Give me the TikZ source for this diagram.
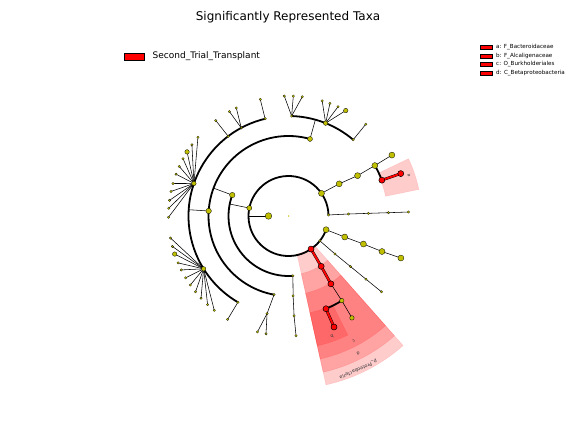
\documentclass[tikz,border=0pt]{standalone}
\usepackage{fontspec}
\setmainfont{DejaVu Sans}
\definecolor{ylw}{rgb}{0.75,0.75,0}
\tikzset{
  yn/.style={circle, fill=ylw, draw=black, line width=0.3pt, inner sep=0pt},
  big/.style={yn, minimum size=6pt},
  med/.style={yn, minimum size=5pt},
  mdl/.style={yn, minimum size=4.5pt},
  sml/.style={yn, minimum size=2.5pt, line width=0.2pt},
  rn/.style={circle, fill=red, draw=black, line width=0.5pt, inner sep=0pt, minimum size=6pt},
  lk/.style={draw=black, line width=0.55pt},
  arcl/.style={draw=black, line width=1.8pt},
  redl/.style={draw=red, line width=1.9pt, preaction={draw=black, line width=2.7pt}},
  sector/.style={fill=red, fill opacity=0.2, draw=red, draw opacity=0.12, line width=0.4pt},
  lbl/.style={inner sep=0pt, font=\fontsize{4.5}{5}\selectfont, text=black!80},
  legpatch/.style={draw=black, fill=red, line width=0.6pt, inner sep=0pt}
}
\newcommand{\sect}[4]{\path[sector] (#1:#3pt) arc[start angle=#1,end angle=#2,radius=#3pt] -- (#2:#4pt) arc[start angle=#2,end angle=#1,radius=#4pt] -- cycle;}
\begin{document}
\begin{tikzpicture}[x=1pt,y=1pt]
\useasboundingbox (0,0) rectangle (576,432);
\fill[white] (0,0) rectangle (576,432);

% title and legends
\node (title) at (288,415) {\fontsize{12}{14}\selectfont Significantly Represented Taxa};
\node[legpatch, minimum width=20pt, minimum height=7pt] (lp) at (134,375.5) {};
\node[anchor=west, inner sep=0pt] (lt) at (152.5,375.5) {\fontsize{9}{10}\selectfont Second\_Trial\_Transplant};
\foreach \y/\t [count=\i] in {384.5/{a: F\_Bacteroidaceae},376/{b: F\_Alcaligenaceae},367.5/{c: O\_Burkholderiales},359/{d: C\_Betaproteobacteria}} {
  \node[legpatch, minimum width=12pt, minimum height=4pt] (rp\i) at (486,\y) {};
  \node[anchor=west, inner sep=0pt] (rt\i) at (496,\y) {\fontsize{5.6}{6.5}\selectfont \t};
}

\begin{scope}[shift={(288.5,216)}]
% shaded clades
\sect{11.5}{25.5}{99}{133}
\sect{-77.5}{-48.5}{39}{173}
\sect{-77.5}{-48.5}{59}{160}
\sect{-77.5}{-48.5}{79}{146.5}
\sect{-77.5}{-63.5}{99}{133}

% clade labels
\node[lbl, rotate=-71.6] (la) at (18.4:127pt) {a};
\node[lbl, rotate=-160.2] (lb) at (-70.2:128.5pt) {b};
\node[lbl, rotate=-152.5] (lc) at (-62.5:141pt) {c};
\node[lbl, rotate=-153] (ld) at (-63:154pt) {d};
\node[lbl, rotate=-155.6, font=\fontsize{4.8}{5.5}\selectfont] (lpP) at (-65.6:168.5pt) {p\_Proteobacteria};

% coordinates
\coordinate (R) at (0,0);
\coordinate (K) at (180:20pt);   \coordinate (KA) at (180:40pt);
\coordinate (P1) at (168.5:40pt); \coordinate (P1A) at (168.5:60pt);
\coordinate (P2) at (34.5:40pt);
\coordinate (P3) at (1.5:40pt);
\coordinate (P4) at (-20:40pt);
\coordinate (P5) at (-38.4:40pt);
\coordinate (PP) at (-55.7:40pt);
\coordinate (C1) at (159.6:60pt); \coordinate (C1A) at (159.6:80pt);
\coordinate (C2) at (274.2:60pt);
\coordinate (C2o) at (273.3:80pt);
\coordinate (C2f) at (273.2:100pt);
\coordinate (C2g) at (273.6:120pt);
\coordinate (O1) at (74.4:80pt);  \coordinate (O1A) at (74.4:100pt);
\coordinate (O2) at (176.4:80pt); \coordinate (O2A) at (176.4:100pt);
\coordinate (O3) at (259.6:80pt);
\coordinate (F1) at (88.2:100pt);
\coordinate (F2) at (68.2:100pt);
\coordinate (F3) at (49.7:100pt);
\coordinate (F4) at (103.5:100pt);
\coordinate (F5) at (118.2:100pt);
\coordinate (F6) at (127.1:100pt);
\coordinate (F7) at (161:100pt);
\coordinate (F8) at (211.9:100pt);
\coordinate (F9) at (239.6:100pt);
\coordinate (F10) at (257.6:100pt);
% a branch
\coordinate (C3) at (32.4:60pt);
\coordinate (O4) at (30.3:80pt);
\coordinate (F11) at (30.3:100pt);
\coordinate (G11) at (30.5:120pt);
\coordinate (FA) at (21:100pt);
\coordinate (GA) at (20.7:120pt);
% small chain right
\coordinate (S1) at (1.9:60pt); \coordinate (S2) at (1.9:80pt);
\coordinate (S3) at (1.9:100pt); \coordinate (S4) at (1.9:120pt);
% big chain lower right
\coordinate (B1) at (-20.5:60pt); \coordinate (B2) at (-20.5:80pt);
\coordinate (B3) at (-20.8:100pt); \coordinate (B4) at (-20.5:120pt);
% small chain -39
\coordinate (T1) at (-39.2:60pt); \coordinate (T2) at (-39.2:80pt);
\coordinate (T3) at (-39.2:100pt); \coordinate (T4) at (-39.2:120pt);
% proteobacteria
\coordinate (CP) at (-57:60pt);
\coordinate (OP) at (-58:80pt);
\coordinate (FP) at (-57.8:100pt);
\coordinate (GP) at (-58.1:120pt);
\coordinate (FB) at (-68:100pt);
\coordinate (GB) at (-67.7:120pt);

% arcs
\draw[arcl] (1.5:40pt) arc[start angle=1.5, end angle=340, radius=40pt];
\draw[arcl] (159.6:60pt) arc[start angle=159.6, end angle=274.2, radius=60pt];
\draw[arcl] (74.4:80pt) arc[start angle=74.4, end angle=259.6, radius=80pt];
\draw[arcl] (49.7:100pt) arc[start angle=49.7, end angle=88.2, radius=100pt];
\draw[arcl] (103.5:100pt) arc[start angle=103.5, end angle=239.6, radius=100pt];
\draw[arcl] (21:100pt) arc[start angle=21, end angle=30.3, radius=100pt];
\draw[arcl] (-68:100pt) arc[start angle=-68, end angle=-57.8, radius=100pt];

% connectors
\draw[lk, line width=0.8pt] (K) -- (KA);
\draw[lk] (P1) -- (P1A);
\draw[lk] (C1) -- (C1A);
\draw[lk] (O1) -- (O1A);
\draw[lk] (O2) -- (O2A);
\draw[lk] (C2) -- (C2o) -- (C2f) -- (C2g);
\draw[lk] (O3) -- (F10);
\draw[lk] (P2) -- (C3) -- (O4) -- (F11) -- (G11);
\draw[lk] (P3) -- (S1) -- (S2) -- (S3) -- (S4);
\draw[lk] (P4) -- (B1) -- (B2) -- (B3) -- (B4);
\draw[lk] (P5) -- (T1) -- (T2) -- (T3) -- (T4);
\draw[lk] (OP) -- (FP) -- (GP);
\draw[redl] (PP) -- (CP) -- (OP);
\draw[redl] (FA) -- (GA);
\draw[redl] (FB) -- (GB);

% leaves with their connectors
\foreach \a/\s [count=\i] in {92/sml,87.7/sml,83.4/sml} {\coordinate (La\i) at (\a:120pt); \draw[lk] (F1) -- (La\i); \node[\s] (nLa\i) at (La\i) {};}
\foreach \a/\s [count=\i] in {73.7/sml,69.8/sml,65.6/sml,61.5/mdl} {\coordinate (Lb\i) at (\a:120pt); \draw[lk] (F2) -- (Lb\i); \node[\s] (nLb\i) at (Lb\i) {};}
\foreach \a/\s [count=\i] in {49.9/sml} {\coordinate (Lc\i) at (\a:120pt); \draw[lk] (F3) -- (Lc\i); \node[\s] (nLc\i) at (Lc\i) {};}
\foreach \a/\s [count=\i] in {103.6/sml} {\coordinate (Ld\i) at (\a:120pt); \draw[lk] (F4) -- (Ld\i); \node[\s] (nLd\i) at (Ld\i) {};}
\foreach \a/\s [count=\i] in {119.5/sml,115.8/sml} {\coordinate (Le\i) at (\a:120pt); \draw[lk] (F5) -- (Le\i); \node[\s] (nLe\i) at (Le\i) {};}
\foreach \a/\s [count=\i] in {127.3/sml} {\coordinate (Lf\i) at (\a:120pt); \draw[lk] (F6) -- (Lf\i); \node[\s] (nLf\i) at (Lf\i) {};}
\foreach \a/\s [count=\i] in {139/sml,143.6/sml,147.7/mdl,151.5/sml,155.6/sml,159.6/sml,164.3/sml,168.2/sml,172.5/sml,176.3/sml,180.6/sml} {\coordinate (Lg\i) at (\a:120pt); \draw[lk] (F7) -- (Lg\i); \node[\s] (nLg\i) at (Lg\i) {};}
\foreach \a/\s [count=\i] in {190.6/sml,194.7/sml,198.5/mdl,203/sml,206.7/sml,211/sml,215.1/sml,219.2/sml,223.2/sml,227.6/sml,231.8/sml} {\coordinate (Lh\i) at (\a:120pt); \draw[lk] (F8) -- (Lh\i); \node[\s] (nLh\i) at (Lh\i) {};}
\foreach \a/\s [count=\i] in {239.5/sml} {\coordinate (Li\i) at (\a:120pt); \draw[lk] (F9) -- (Li\i); \node[\s] (nLi\i) at (Li\i) {};}
\foreach \a/\s [count=\i] in {255/sml,259.2/sml} {\coordinate (Lj\i) at (\a:120pt); \draw[lk] (F10) -- (Lj\i); \node[\s] (nLj\i) at (Lj\i) {};}

% nodes
\node[yn, minimum size=1.5pt, line width=0pt, draw=none] (nR) at (R) {};
\node[big, minimum size=6.6pt] (nK) at (K) {};
\node[med] (nP1) at (P1) {};
\node[big] (nP2) at (P2) {};
\node[sml] (nP3) at (P3) {};
\node[big] (nP4) at (P4) {};
\node[sml] (nP5) at (P5) {};
\node[rn] (nPP) at (PP) {};
\node[med, minimum size=5.5pt] (nC1) at (C1) {};
\node[sml] (nC2) at (C2) {};
\node[sml] (nC2o) at (C2o) {};
\node[sml] (nC2f) at (C2f) {};
\node[sml] (nC2g) at (C2g) {};
\node[med] (nO1) at (O1) {};
\node[med, minimum size=5.5pt] (nO2) at (O2) {};
\node[sml] (nO3) at (O3) {};
\node[sml] (nF1) at (F1) {};
\node[mdl] (nF2) at (F2) {};
\node[sml] (nF3) at (F3) {};
\node[sml] (nF4) at (F4) {};
\node[sml] (nF5) at (F5) {};
\node[sml] (nF6) at (F6) {};
\node[mdl] (nF7) at (F7) {};
\node[mdl] (nF8) at (F8) {};
\node[sml] (nF9) at (F9) {};
\node[sml] (nF10) at (F10) {};
\node[big] (nC3) at (C3) {};
\node[big] (nO4) at (O4) {};
\node[big] (nF11) at (F11) {};
\node[big] (nG11) at (G11) {};
\node[rn] (nFA) at (FA) {};
\node[rn] (nGA) at (GA) {};
\foreach \c in {S1,S2,S3,S4,T1,T2,T3,T4} {\node[sml] (n\c) at (\c) {};}
\foreach \c in {B1,B2,B3,B4} {\node[big] (n\c) at (\c) {};}
\node[rn] (nCP) at (CP) {};
\node[rn] (nOP) at (OP) {};
\node[mdl] (nFP) at (FP) {};
\node[mdl] (nGP) at (GP) {};
\node[rn] (nFB) at (FB) {};
\node[rn] (nGB) at (GB) {};
\end{scope}
\end{tikzpicture}
\end{document}
